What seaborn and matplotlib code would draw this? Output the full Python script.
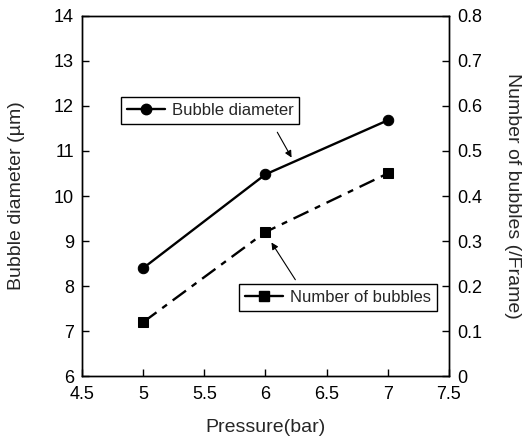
import matplotlib
matplotlib.use("Agg")
import matplotlib.pyplot as plt
import seaborn as sns
from matplotlib.lines import Line2D

# values
pressure = [5, 6, 7]
bubble_diameter = [8.4, 10.48, 11.68]
bubble_number = [0.12, 0.32, 0.45]

left_ticks = [6, 7, 8, 9, 10, 11, 12, 13, 14]
right_ticks = [0, 0.1, 0.2, 0.3, 0.4, 0.5, 0.6, 0.7, 0.8]
x_ticks = [4.5, 5, 5.5, 6, 6.5, 7, 7.5]

sns.set_style("ticks")
plt.rcParams['font.family'] = ['Liberation Sans', 'DejaVu Sans']

fig, ax = plt.subplots(figsize=(5.23, 4.4), dpi=100)
fig.subplots_adjust(left=0.157, right=0.858, top=0.964, bottom=0.145)
ax2 = ax.twinx()

# bubble diameter on the left axis
sns.lineplot(x=pressure, y=bubble_diameter, ax=ax, color='black', marker='o',
             markersize=7.5, linewidth=1.7, markeredgecolor='black')
# number of bubbles on the right axis, dash-dot line
sns.lineplot(x=pressure, y=bubble_number, ax=ax2, color='black', marker='s',
             markersize=7.5, linewidth=1.7, markeredgecolor='black')
ax2.lines[0].set_linestyle((0, (7, 3, 2.5, 3)))

ax.set_xlim(4.5, 7.5)
ax.set_ylim(6, 14)
ax2.set_ylim(0, 0.8)
ax.set_xticks(x_ticks)
ax.set_xticklabels([f"{t:g}" for t in x_ticks])
ax.set_yticks(left_ticks)
ax2.set_yticks(right_ticks)
ax2.set_yticklabels([f"{t:g}" for t in right_ticks])

for a in (ax, ax2):
    a.tick_params(direction='in', length=5, width=1, labelsize=13, colors='black', pad=6)
    for s in a.spines.values():
        s.set_visible(True)
        s.set_color('black')
        s.set_linewidth(1)
ax.tick_params(axis='x', pad=7)

ax.set_xlabel("Pressure(bar)", fontsize=14, va='center')
ax.set_ylabel("Bubble diameter (\u00b5m)", fontsize=14, va='center')
ax2.set_ylabel("Number of bubbles (/Frame)", fontsize=14, rotation=270, va='center')
ax.xaxis.set_label_coords(0.5, -0.142)
ax.yaxis.set_label_coords(-0.18, 0.5)
ax2.yaxis.set_label_coords(1.174, 0.5)

# legend boxes with arrows
h1 = Line2D([], [], color='black', marker='o', markersize=7.5, linewidth=1.7)
h2 = Line2D([], [], color='black', marker='s', markersize=7.5, linewidth=1.7)
leg_kw = dict(fontsize=12, frameon=True, fancybox=False, edgecolor='black',
              framealpha=1, handlelength=2.3, handletextpad=0.4,
              borderpad=0.35, borderaxespad=0)
l1 = fig.legend([h1], ["Bubble diameter"], loc='upper left',
                bbox_to_anchor=(121 / 523, 1 - 97 / 440), **leg_kw)
l1.get_frame().set_linewidth(1)
l2 = fig.legend([h2], ["Number of bubbles"], loc='upper left',
                bbox_to_anchor=(239 / 523, 1 - 284 / 440), **leg_kw)
l2.get_frame().set_linewidth(1)

arrow = dict(arrowstyle='-|>', color='black', lw=0.8, mutation_scale=10)
ax.annotate('', xy=(6.225, 10.8), xytext=(6.086, 11.47), arrowprops=arrow)
ax.annotate('', xy=(6.037, 9.02), xytext=(6.257, 8.09), arrowprops=arrow)

fig.savefig("out.png", dpi=100)
